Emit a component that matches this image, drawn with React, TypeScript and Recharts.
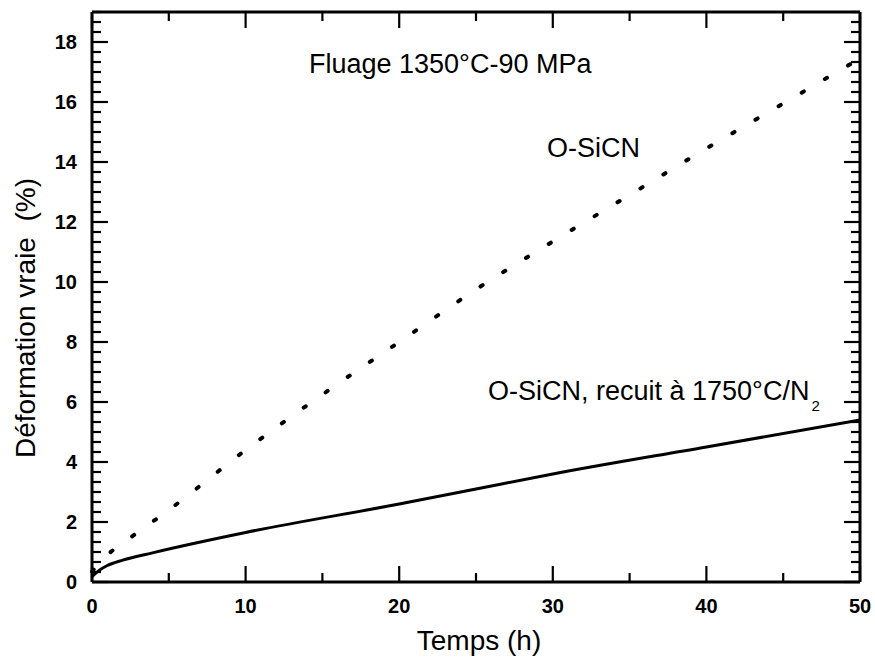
import { LineChart, Line, XAxis, YAxis } from "recharts";

// Fluage 1350°C - 90 MPa
const HOURS_OSICN = [0, 1, 2.5, 5, 10, 15, 20, 25, 30, 35, 40, 45, 50];
const STRAIN_OSICN = [0.35, 0.9, 1.48, 2.4, 4.4, 6.25, 8.0, 9.75, 11.35, 12.9, 14.45, 15.95, 17.45];

const HOURS_RECUIT = [0, 0.5, 1, 2, 4, 10, 20, 25, 30, 40, 50];
const STRAIN_RECUIT = [0.18, 0.4, 0.55, 0.73, 0.98, 1.65, 2.6, 3.1, 3.6, 4.5, 5.4];

const X_TICKS = [0, 5, 10, 15, 20, 25, 30, 35, 40, 45, 50];
const X_LABELS = [0, 10, 20, 30, 40, 50];
const Y_LABELS = [0, 2, 4, 6, 8, 10, 12, 14, 16, 18];
// minor ticks every 1/3 %
const Y_TICKS = Array.from({ length: 58 }, (_, i) => i / 3);

const osicn = HOURS_OSICN.map((t, i) => ({ t, v: STRAIN_OSICN[i] }));
const recuit = HOURS_RECUIT.map((t, i) => ({ t, v: STRAIN_RECUIT[i] }));

const FONT = "'Liberation Sans', Arial, sans-serif";
const INK = "#000";
const isIn = (list: number[], v: number) => list.some((l) => Math.abs(l - v) < 1e-6);

const BottomTick = ({ x, y, payload }: any) => {
  const major = isIn(X_LABELS, payload.value);
  return (
    <g>
      <line x1={x} x2={x} y1={y} y2={y - (major ? 16 : 9)} stroke={INK} strokeWidth={2.2} />
      {major && (
        <text x={x} y={y + 31} textAnchor="middle" fontFamily={FONT} fontWeight="bold" fontSize={20} fill={INK} stroke="none">
          {payload.value}
        </text>
      )}
    </g>
  );
};

const TopTick = ({ x, y, payload }: any) => {
  const major = isIn(X_LABELS, payload.value);
  return <line x1={x} x2={x} y1={y} y2={y + (major ? 16 : 9)} stroke={INK} strokeWidth={2.2} />;
};

const LeftTick = ({ x, y, payload }: any) => {
  const major = isIn(Y_LABELS, payload.value);
  return (
    <g>
      <line x1={x} x2={x + (major ? 16 : 9)} y1={y} y2={y} stroke={INK} strokeWidth={2.2} />
      {major && (
        <text x={x - 15} y={y + 7} textAnchor="end" fontFamily={FONT} fontWeight="bold" fontSize={20} fill={INK} stroke="none">
          {Math.round(payload.value)}
        </text>
      )}
    </g>
  );
};

const RightTick = ({ x, y, payload }: any) => {
  const major = isIn(Y_LABELS, payload.value);
  return <line x1={x} x2={x - (major ? 16 : 9)} y1={y} y2={y} stroke={INK} strokeWidth={2.2} />;
};

const axisLine = { stroke: INK, strokeWidth: 3 };

export default function App() {
  return (
    <div style={{ position: "absolute", left: 0, top: 0, width: 875, height: 657, background: "#fff" }}>
      <LineChart width={875} height={657} margin={{ top: 0, right: 0, bottom: 0, left: 0 }}>
        <XAxis
          dataKey="t"
          type="number"
          domain={[0, 50]}
          ticks={X_TICKS}
          interval={0}
          height={75}
          tickSize={0}
          tickMargin={0}
          tickLine={false}
          axisLine={axisLine}
          tick={<BottomTick />}
        />
        <XAxis
          xAxisId="top"
          orientation="top"
          dataKey="t"
          type="number"
          domain={[0, 50]}
          ticks={X_TICKS}
          interval={0}
          height={12}
          tickSize={0}
          tickMargin={0}
          tickLine={false}
          axisLine={axisLine}
          tick={<TopTick />}
        />
        <YAxis
          type="number"
          domain={[0, 19]}
          ticks={Y_TICKS}
          interval={0}
          width={92}
          tickSize={0}
          tickMargin={0}
          tickLine={false}
          axisLine={axisLine}
          tick={<LeftTick />}
        />
        <YAxis
          yAxisId="right"
          orientation="right"
          type="number"
          domain={[0, 19]}
          ticks={Y_TICKS}
          interval={0}
          width={15}
          tickSize={0}
          tickMargin={0}
          tickLine={false}
          axisLine={axisLine}
          tick={<RightTick />}
        />
        <Line
          data={osicn}
          dataKey="v"
          type="monotone"
          stroke={INK}
          strokeWidth={4}
          strokeLinecap="round"
          strokeDasharray="2.5 24.3"
          dot={false}
          isAnimationActive={false}
        />
        {/* same scales as the main axes; bound to the mirrored frame axes */}
        <Line
          data={recuit}
          xAxisId="top"
          yAxisId="right"
          dataKey="v"
          type="monotone"
          stroke={INK}
          strokeWidth={3}
          dot={false}
          isAnimationActive={false}
        />
      </LineChart>
      <svg
        width={875}
        height={657}
        style={{ position: "absolute", left: 0, top: 0, pointerEvents: "none" }}
        fontFamily={FONT}
        fill={INK}
      >
        <text x={309} y={73} fontSize={27}>Fluage 1350°C-90 MPa</text>
        <text x={547} y={157} fontSize={27}>O-SiCN</text>
        <text x={488} y={400} fontSize={27}>
          O-SiCN, recuit à 1750°C/N
          <tspan fontSize={15} dx={2} dy={11}>2</tspan>
        </text>
        <text x={479} y={650} fontSize={28} textAnchor="middle">Temps (h)</text>
        <text
          x={35}
          y={318}
          fontSize={28}
          textAnchor="middle"
          transform="rotate(-90 35 318)"
          style={{ whiteSpace: "pre" }}
        >
          {"Déformation vraie  (%)"}
        </text>
      </svg>
    </div>
  );
}
